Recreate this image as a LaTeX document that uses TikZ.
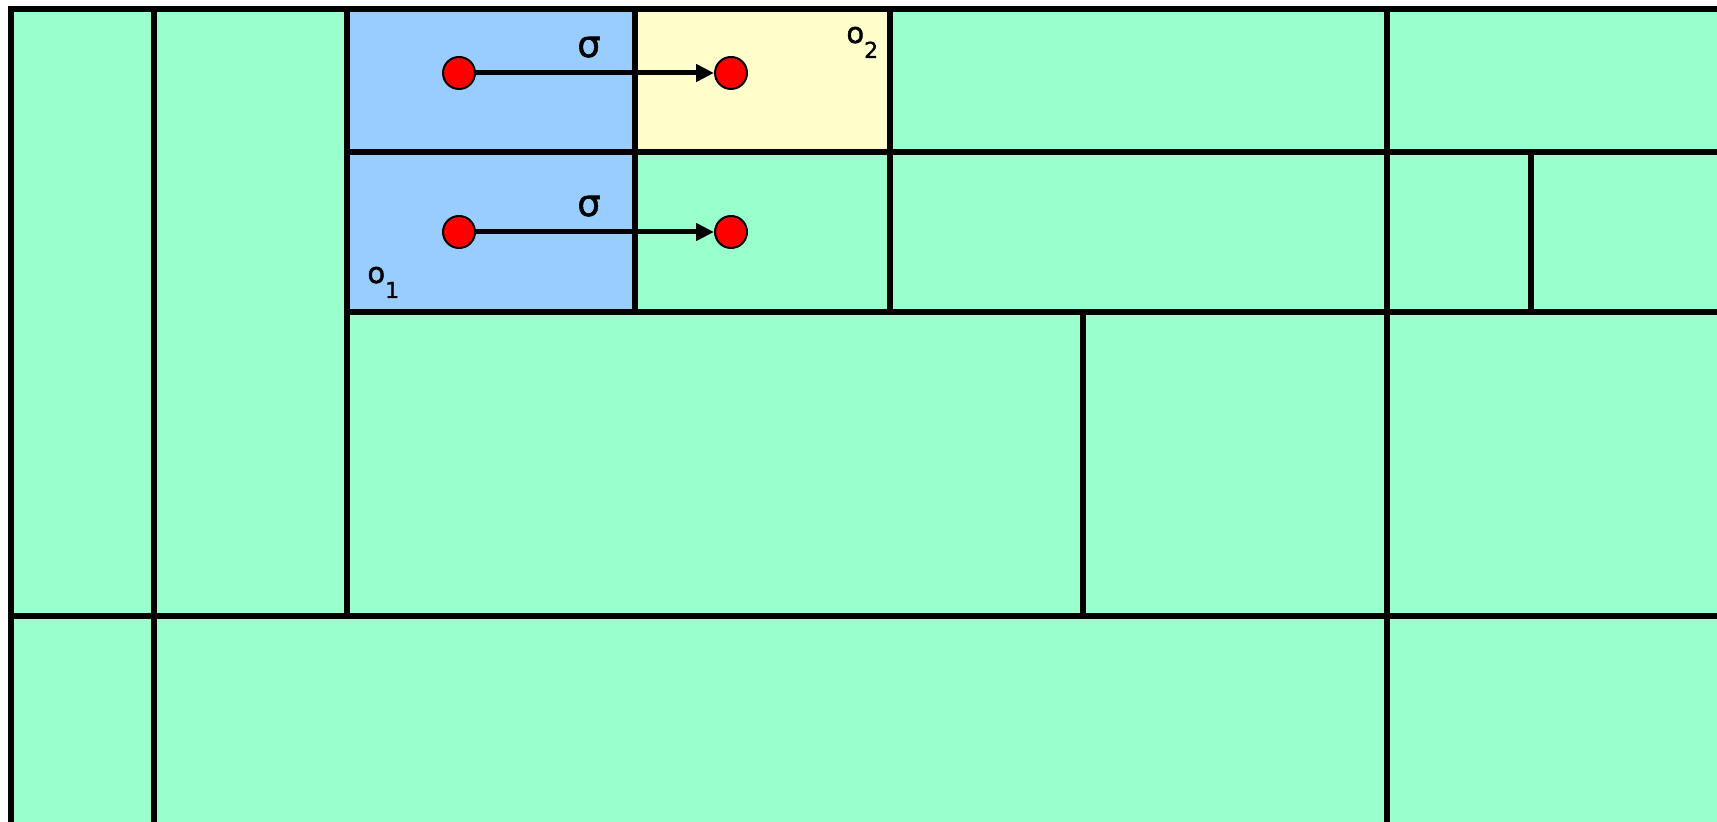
\documentclass[tikz,border=0pt]{standalone}
\usepackage{fontspec}
\setmainfont{DejaVu Sans}
\newfontfamily\lblfont[FakeBold=1.5]{DejaVu Sans}
\usepackage{xcolor}
\usetikzlibrary{arrows.meta}

\definecolor{cellgreen}{RGB}{153,255,204}
\definecolor{cellblue}{RGB}{153,204,255}
\definecolor{cellyellow}{RGB}{255,255,204}

\newcommand{\objsub}[1]{\raisebox{-7.5pt}{\fontsize{11}{11}\selectfont #1}}

\begin{document}
\begin{tikzpicture}[x=0.5pt, y=-0.5pt,
  grid/.style={line width=3.1pt},
  pt/.style={circle, draw, fill=red, line width=1pt, minimum size=16pt, inner sep=0pt},
  map/.style={line width=2.5pt, -{Triangle[length=9pt,width=8.5pt]}},
  sig/.style={font=\lblfont\fontsize{18.5}{18.5}\selectfont, inner sep=0pt, anchor=base},
  obj/.style={font=\lblfont\fontsize{14.5}{14.5}\selectfont, inner sep=0pt, anchor=base west}
]
\useasboundingbox (0,0) rectangle (1717,822);

% cells
\fill[cellgreen] (11,9) rectangle (1717,822);
\fill[cellblue] (347,9) rectangle (635,312);
\fill[cellyellow] (635,9) rectangle (890,152);

% partition
\draw[grid] (11,822) -- (11,9) -- (1717,9);
\draw[grid] (154,9) -- (154,822);
\draw[grid] (347,9) -- (347,616);
\draw[grid] (635,9) -- (635,312);
\draw[grid] (890,9) -- (890,312);
\draw[grid] (1083,312) -- (1083,616);
\draw[grid] (1387,9) -- (1387,822);
\draw[grid] (1531,152) -- (1531,312);
\draw[grid] (347,152) -- (1717,152);
\draw[grid] (347,312) -- (1717,312);
\draw[grid] (11,616) -- (1717,616);

% points and their images
\node[pt] (p1) at (459,73) {};
\node[pt] (q1) at (731,73) {};
\node[pt] (p2) at (459,232) {};
\node[pt] (q2) at (731,232) {};

\draw[map] (p1) -- (q1);
\draw[map] (p2) -- (q2);

% labels
\node[sig] (s1) at (589,57) {σ};
\node[sig] (s2) at (589,216) {σ};
\node[obj] (o2) at (846,43) {o\objsub{2}};
\node[obj] (o1) at (367,283) {o\objsub{1}};

\end{tikzpicture}
\end{document}
